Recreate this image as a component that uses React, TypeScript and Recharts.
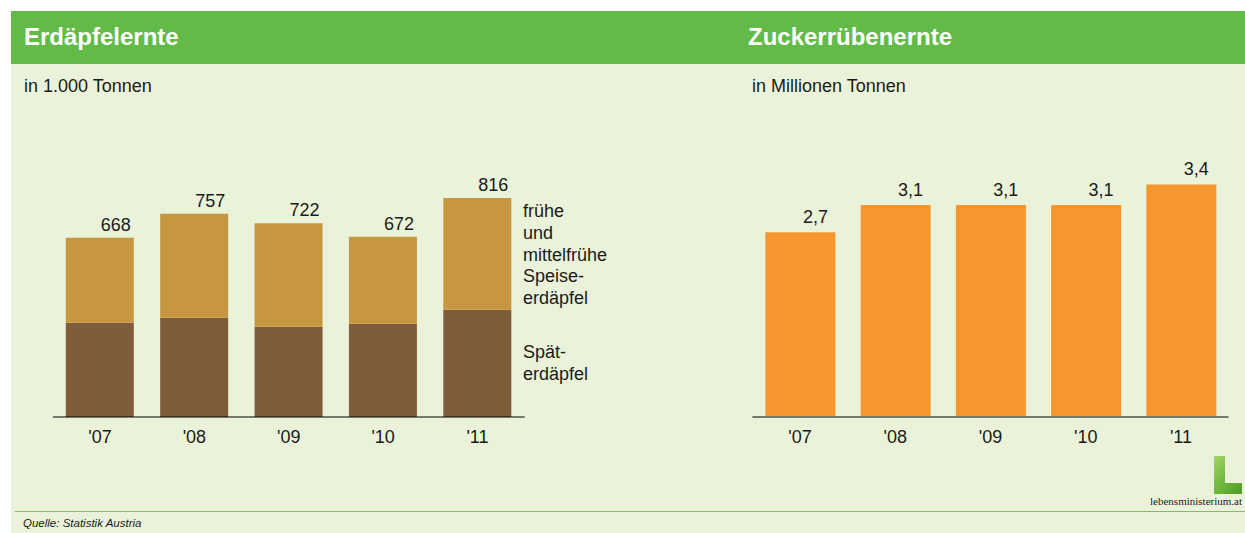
import React from "react";
import { BarChart, Bar, XAxis, YAxis, LabelList } from "recharts";

const years = ["'07", "'08", "'09", "'10", "'11"];
// Erdäpfel in 1.000 t
const spaetErdaepfel = [351, 370, 336, 347, 400];
const fruehErdaepfel = [317, 387, 386, 325, 416];
const erdaepfelTotals = [668, 757, 722, 672, 816];
// Zuckerrüben in Mio. t
const zuckerrueben = [2.7, 3.1, 3.1, 3.1, 3.4];

const potatoData = years.map((year, i) => ({
  year,
  spaet: spaetErdaepfel[i],
  frueh: fruehErdaepfel[i],
}));

const beetData = years.map((year, i) => ({
  year,
  value: zuckerrueben[i],
}));

const FONT = "'Liberation Sans', Arial, Helvetica, sans-serif";
const TEXT = "#1a1a1a";
const BG = "#eaf3d9";
const HEADER = "#62bb47";

const renderPotatoTotal = (props: any) => {
  const { x, y, width, index } = props;
  return (
    <text
      x={Number(x) + Number(width) / 2 + 16}
      y={Number(y) - 7}
      textAnchor="middle"
      fontSize={18}
      fontFamily={FONT}
      fill={TEXT}
    >
      {erdaepfelTotals[index]}
    </text>
  );
};

const renderBeetValue = (props: any) => {
  const { x, y, width, index } = props;
  return (
    <text
      x={Number(x) + Number(width) / 2 + 15}
      y={Number(y) - 9}
      textAnchor="middle"
      fontSize={18}
      fontFamily={FONT}
      fill={TEXT}
    >
      {zuckerrueben[index].toFixed(1).replace(".", ",")}
    </text>
  );
};

const tickStyle = { fill: TEXT, fontSize: 18, fontFamily: FONT };

export default function App() {
  return (
    <div
      style={{
        position: "absolute",
        left: 0,
        top: 0,
        width: 1245,
        height: 533,
        background: "#ffffff",
        overflow: "hidden",
      }}
    >
      <svg
        width={1245}
        height={533}
        style={{ position: "absolute", left: 0, top: 0 }}
      >
        <defs>
          <linearGradient id="logoGreen" x1="0" y1="0" x2="1" y2="1">
            <stop offset="0%" stopColor="#a6d46a" />
            <stop offset="50%" stopColor="#6fb83c" />
            <stop offset="100%" stopColor="#4f9a2a" />
          </linearGradient>
        </defs>
        <rect x={11} y={64} width={1234} height={469} fill={BG} />
        <rect x={11} y={11} width={1234} height={53} fill={HEADER} />
        <text x={24} y={45} fontSize={24} fontWeight="bold" fill="#ffffff" fontFamily={FONT}>
          Erdäpfelernte
        </text>
        <text x={748} y={45} fontSize={24} fontWeight="bold" fill="#ffffff" fontFamily={FONT}>
          Zuckerrübenernte
        </text>
        <text x={24} y={92} fontSize={18} fill={TEXT} fontFamily={FONT}>
          in 1.000 Tonnen
        </text>
        <text x={752} y={92} fontSize={18} fill={TEXT} fontFamily={FONT}>
          in Millionen Tonnen
        </text>

        {/* legend of the potato chart */}
        <g fontSize={18} fill={TEXT} fontFamily={FONT}>
          <text x={523} y={217}>frühe</text>
          <text x={523} y={239}>und</text>
          <text x={523} y={261}>mittelfrühe</text>
          <text x={523} y={282}>Speise-</text>
          <text x={523} y={304}>erdäpfel</text>
          <text x={523} y={358}>Spät-</text>
          <text x={523} y={380}>erdäpfel</text>
        </g>

        {/* logo */}
        <path
          d="M1214 456 H1225 V483 H1242 V494 H1214 Z"
          fill="url(#logoGreen)"
        />
        <text
          x={1242}
          y={505}
          fontSize={11}
          textAnchor="end"
          fill="#222"
          fontFamily="'Liberation Serif', 'Times New Roman', serif"
        >
          lebensministerium.at
        </text>

        <line x1={15} y1={511.5} x2={1245} y2={511.5} stroke="#7cc063" strokeWidth={1} />
        <text
          x={23}
          y={527}
          fontSize={11.5}
          fontStyle="italic"
          fill={TEXT}
          fontFamily={FONT}
        >
          Quelle: Statistik Austria
        </text>
      </svg>

      <div style={{ position: "absolute", left: 0, top: 0 }}>
        <BarChart
          width={545}
          height={460}
          data={potatoData}
          margin={{ top: 148.6, right: 20.3, left: 52.8, bottom: 13 }}
        >
          <XAxis
            dataKey="year"
            axisLine={{ stroke: "#000000", strokeWidth: 1 }}
            tickLine={false}
            tick={tickStyle}
            tickMargin={7}
            height={30}
            interval={0}
          />
          <YAxis hide domain={[0, 1000]} />
          <Bar
            dataKey="spaet"
            stackId="a"
            fill="#7f5c3a"
            barSize={68}
            isAnimationActive={false}
          />
          <Bar
            dataKey="frueh"
            stackId="a"
            fill="#c69740"
            barSize={68}
            isAnimationActive={false}
          >
            <LabelList dataKey="frueh" content={renderPotatoTotal} />
          </Bar>
        </BarChart>
      </div>

      <div style={{ position: "absolute", left: 700, top: 0 }}>
        <BarChart
          width={545}
          height={460}
          data={beetData}
          margin={{ top: 143.4, right: 16.4, left: 52.4, bottom: 13 }}
        >
          <XAxis
            dataKey="year"
            axisLine={{ stroke: "#737b6b", strokeWidth: 2 }}
            tickLine={false}
            tick={tickStyle}
            tickMargin={7}
            height={30}
            interval={0}
          />
          <YAxis hide domain={[0, 4]} />
          <Bar
            dataKey="value"
            fill="#f7962f"
            barSize={70}
            isAnimationActive={false}
          >
            <LabelList dataKey="value" content={renderBeetValue} />
          </Bar>
        </BarChart>
      </div>
    </div>
  );
}
